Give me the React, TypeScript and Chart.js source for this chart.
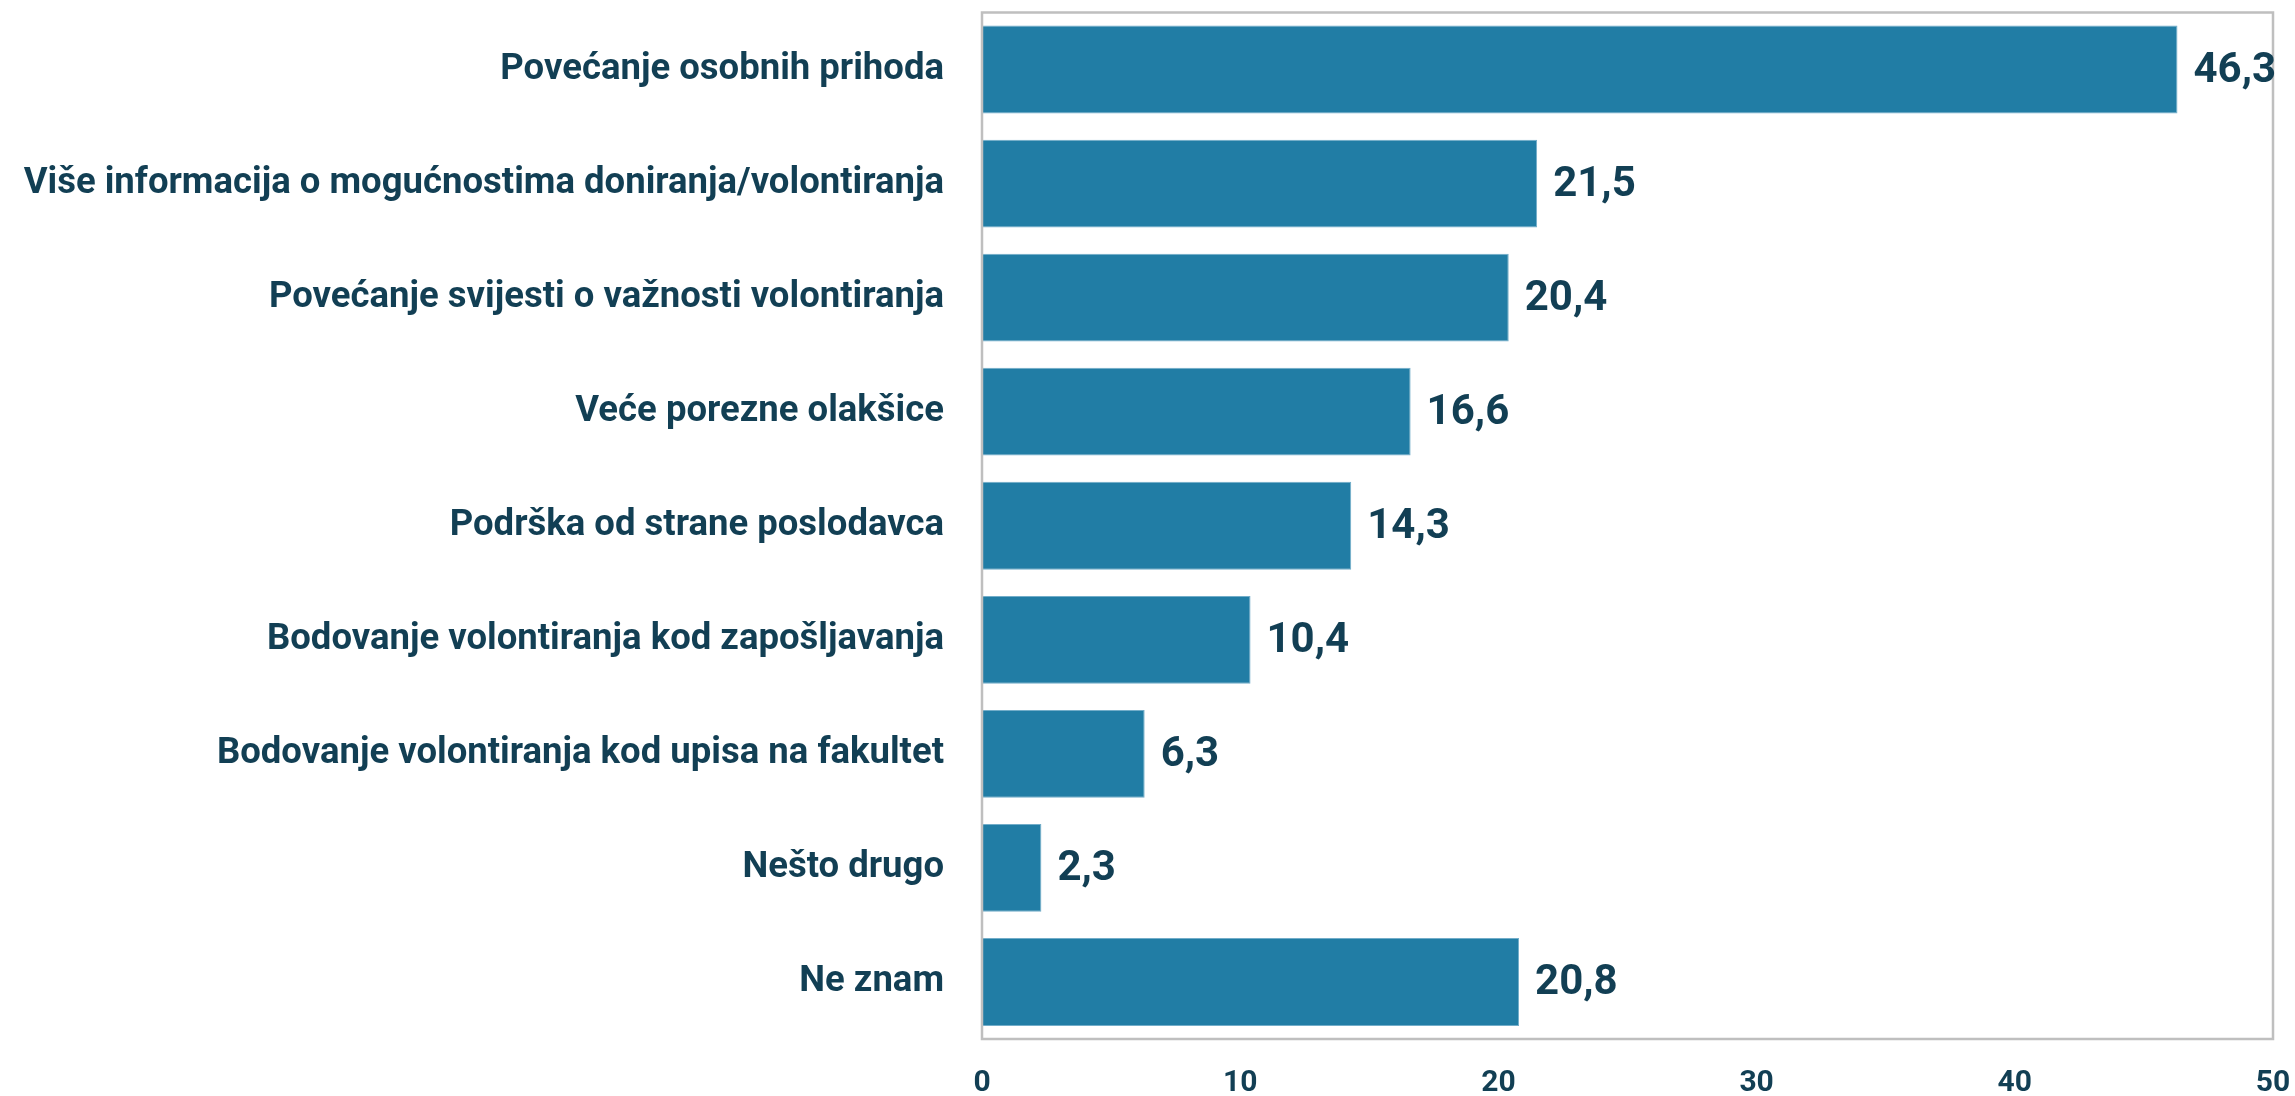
import React, { useEffect, useRef } from "react";
import { Chart, registerables } from "chart.js";

Chart.register(...registerables);

const categories = [
  "Povećanje osobnih prihoda",
  "Više informacija o mogućnostima doniranja/volontiranja",
  "Povećanje svijesti o važnosti volontiranja",
  "Veće porezne olakšice",
  "Podrška od strane poslodavca",
  "Bodovanje volontiranja kod zapošljavanja",
  "Bodovanje volontiranja kod upisa na fakultet",
  "Nešto drugo",
  "Ne znam",
];
const values = [46.3, 21.5, 20.4, 16.6, 14.3, 10.4, 6.3, 2.3, 20.8];
const xTicks = [0, 10, 20, 30, 40, 50];

const TEXT = "#123f54";
const LABEL_FONT = "Roboto";
const NUM_FONT = "Roboto";

const borderPlugin = {
  id: "plotBorder",
  afterDatasetsDraw(chart: any) {
    const { ctx, chartArea } = chart;
    ctx.save();
    ctx.strokeStyle = "#bfbfbf";
    ctx.lineWidth = 2.5;
    ctx.strokeRect(chartArea.left, chartArea.top, chartArea.right - chartArea.left, chartArea.bottom - chartArea.top);
    ctx.restore();
  },
};

const valueLabels = {
  id: "valueLabels",
  afterDraw(chart: any) {
    const { ctx } = chart;
    const meta = chart.getDatasetMeta(0);
    ctx.save();
    ctx.fillStyle = TEXT;
    ctx.font = `bold 42px ${NUM_FONT}`;
    ctx.textAlign = "left";
    ctx.textBaseline = "middle";
    meta.data.forEach((el: any, i: number) => {
      const v = values[i];
      ctx.fillText(v.toFixed(1).replace(".", ","), el.x + 16, el.y + 2);
    });
    ctx.restore();
  },
};

export default function App() {
  const ref = useRef<HTMLCanvasElement>(null);
  useEffect(() => {
    if (!ref.current) return;
    const chart = new Chart(ref.current, {
      type: "bar",
      data: {
        labels: categories,
        datasets: [
          {
            data: values,
            backgroundColor: "#217da5",
            borderColor: "#72adc9",
            borderWidth: 1,
            barPercentage: 0.77,
            categoryPercentage: 1,
          },
        ],
      },
      options: {
        indexAxis: "y",
        animation: false,
        responsive: false,
        layout: { padding: { top: 12.5, right: 22, left: 0, bottom: 0 } },
        plugins: { legend: { display: false }, tooltip: { enabled: false } },
        scales: {
          x: {
            min: 0,
            max: 50,
            afterBuildTicks: (axis: any) => {
              axis.ticks = xTicks.map((v) => ({ value: v }));
            },
            afterFit: (axis: any) => {
              axis.height = 57;
              axis.paddingLeft = 0;
              axis.paddingRight = 0;
            },
            grid: { display: false, drawTicks: true, tickLength: 26, tickColor: "rgba(0,0,0,0)" },
            border: { display: false },
            ticks: {
              padding: 0,
              color: TEXT,
              font: { family: NUM_FONT, size: 30, weight: "bold" },
            },
          },
          y: {
            afterFit: (axis: any) => {
              axis.width = 982;
              axis.paddingTop = 0;
              axis.paddingBottom = 0;
            },
            grid: { display: false, drawTicks: true, tickLength: 38, tickColor: "rgba(0,0,0,0)" },
            border: { display: false },
            ticks: {
              padding: 0,
              color: TEXT,
              font: { family: LABEL_FONT, size: 36.5, weight: "bold" },
            },
          },
        },
      },
      plugins: [borderPlugin, valueLabels],
    } as any);
    return () => chart.destroy();
  }, []);
  return (
    <div style={{ position: "fixed", left: 0, top: 0, width: 2295, height: 1096, background: "#fff" }}>
      <canvas ref={ref} width={2295} height={1096} style={{ width: 2295, height: 1096 }} />
    </div>
  );
}
